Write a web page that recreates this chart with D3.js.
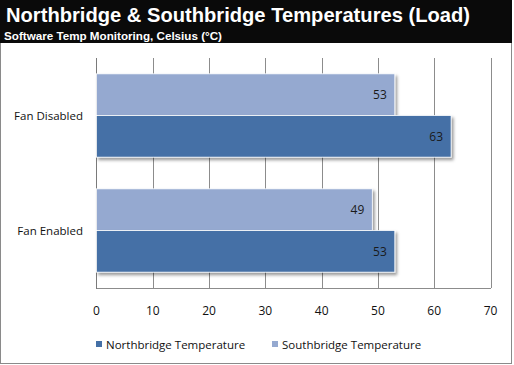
<!DOCTYPE html>
<html><head><meta charset="utf-8">
<script src="https://cdn.jsdelivr.net/npm/d3@7"></script>
<style>body{margin:0;background:#fff;}svg{display:block;}</style>
</head><body>
<svg id="c" width="514" height="365"></svg>
<script>
const categories = ["Fan Disabled", "Fan Enabled"];
const seriesNames = ["Southbridge Temperature", "Northbridge Temperature"];
const southbridge = [53, 49];
const northbridge = [63, 53];
const ticks = [0, 10, 20, 30, 40, 50, 60, 70];
const legendOrder = ["Northbridge Temperature", "Southbridge Temperature"];
const colors = {"Northbridge Temperature": "#4470a6", "Southbridge Temperature": "#95a9d0"};

const valuesBy = {"Southbridge Temperature": southbridge, "Northbridge Temperature": northbridge};
const svg = d3.select("#c");
const font = "'Open Sans', 'Noto Sans', sans-serif";

const defs = svg.append("defs");
const f = defs.append("filter").attr("id", "sh").attr("x", "-5%").attr("y", "-20%").attr("width", "115%").attr("height", "150%");
f.append("feDropShadow").attr("dx", 2).attr("dy", 2.5).attr("stdDeviation", 1.5).attr("flood-color", "#000").attr("flood-opacity", 0.4);

// frame
svg.append("rect").attr("x", 0.5).attr("y", 0.5).attr("width", 511).attr("height", 363).attr("fill", "#fff").attr("stroke", "#8a8a8a");
svg.append("rect").attr("x", 0).attr("y", 0).attr("width", 512).attr("height", 43).attr("fill", "#0a0a0a");
svg.append("text").attr("x", 6).attr("y", 21.5).attr("fill", "#fff").attr("font-family", "'Liberation Sans', Arial, sans-serif").attr("font-weight", "bold").attr("font-size", 21).attr("textLength", 464).attr("lengthAdjust", "spacingAndGlyphs").text("Northbridge & Southbridge Temperatures (Load)");
svg.append("text").attr("x", 4).attr("y", 40).attr("fill", "#fff").attr("font-family", "'Liberation Sans', Arial, sans-serif").attr("font-weight", "bold").attr("font-size", 11.5).attr("textLength", 218).attr("lengthAdjust", "spacingAndGlyphs").text("Software Temp Monitoring, Celsius (°C)");

const x = d3.scaleLinear().domain([0, 70]).range([96.5, 490.5]);
const y0 = d3.scaleBand().domain(categories).range([58, 288]).padding(0);
const y1 = d3.scaleBand().domain(seriesNames).range([0, y0.bandwidth()]).paddingInner(0).paddingOuter(0.38);

// gridlines
const g = svg.append("g");
g.selectAll("line.grid").data(ticks.slice(1)).join("line")
  .attr("x1", d => Math.round(x(d)) + 0.5).attr("x2", d => Math.round(x(d)) + 0.5)
  .attr("y1", 58).attr("y2", 288).attr("stroke", "#8c8c8c").attr("stroke-width", 1);
g.append("line").attr("x1", 96.5).attr("x2", 491).attr("y1", 288.5).attr("y2", 288.5).attr("stroke", "#8c8c8c");
g.append("line").attr("x1", 96.5).attr("x2", 96.5).attr("y1", 58).attr("y2", 289).attr("stroke", "#7a7a7a");

// bars
const data = [];
categories.forEach((c, i) => seriesNames.forEach(s => data.push({c, s, v: valuesBy[s][i]})));
const bars = svg.append("g");
bars.selectAll("rect").data(data).join("rect")
  .attr("x", x(0)).attr("y", d => y0(d.c) + y1(d.s))
  .attr("width", d => x(d.v) - x(0)).attr("height", y1.bandwidth())
  .attr("fill", d => colors[d.s]).attr("stroke", "#fff").attr("stroke-width", 0.8)
  .attr("filter", "url(#sh)");
bars.selectAll("text").data(data).join("text")
  .attr("x", d => x(d.v) - 8).attr("y", d => y0(d.c) + y1(d.s) + y1.bandwidth() / 2 + 4.5)
  .attr("text-anchor", "end").attr("font-family", font).attr("font-size", 12).attr("fill", "#1a1a1a")
  .text(d => d.v);

// category axis labels
svg.append("g").selectAll("text").data(categories).join("text")
  .attr("x", 83).attr("y", d => y0(d) + y0.bandwidth() / 2 + 4.5)
  .attr("text-anchor", "end").attr("font-family", font).attr("font-size", 11.5).attr("fill", "#111")
  .text(d => d);

// x tick labels
svg.append("g").selectAll("text").data(ticks).join("text")
  .attr("x", d => x(d)).attr("y", 314.5).attr("text-anchor", "middle")
  .attr("font-family", font).attr("font-size", 12).attr("fill", "#111").text(d => d);

// legend
const lx = [96, 272];
const lg = svg.append("g");
legendOrder.forEach((s, i) => {
  lg.append("rect").attr("x", lx[i]).attr("y", 341).attr("width", 6).attr("height", 6).attr("fill", colors[s]);
  lg.append("text").attr("x", lx[i] + 10).attr("y", 348.5).attr("font-family", font).attr("font-size", 11.5).attr("fill", "#111").text(s);
});
</script>
</body></html>
